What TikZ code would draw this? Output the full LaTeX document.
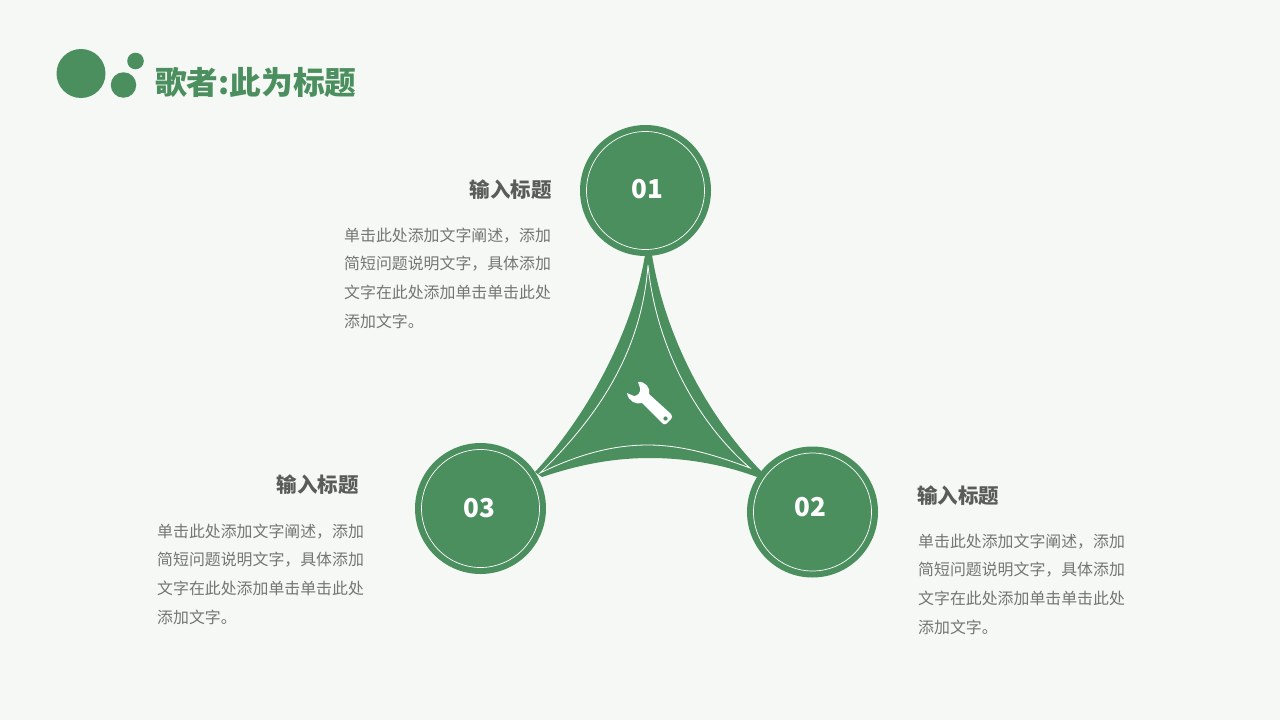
\documentclass[tikz,border=0pt]{standalone}
\usepackage{fontspec}
\setmainfont{Noto Sans CJK SC}
\definecolor{leaf}{HTML}{4B8F5F}
\definecolor{paper}{HTML}{F5F8F5}
\definecolor{ink}{HTML}{5A5C5A}
\definecolor{inkbody}{HTML}{747674}
\begin{document}
\begin{tikzpicture}[
    x=1pt, y=-1pt,
    dot/.style={circle, fill=leaf, inner sep=0pt},
    disc/.style={circle, fill=leaf, inner sep=0pt, minimum size=131pt},
    ring/.style={circle, draw=white, line width=0.7pt, inner sep=0pt, minimum size=118pt},
    number/.style={inner sep=0pt, text=white, font=\fontsize{26}{31}\selectfont\bfseries},
    heading/.style={inner sep=0pt, text=ink, font=\fontsize{20.5}{25}\selectfont\bfseries},
    body/.style={inner sep=0pt, anchor=west, align=left, text=inkbody, font=\fontsize{15.9}{28.7}\selectfont},
]
    \useasboundingbox[fill=paper] (0,0) rectangle (1280,720);

    \node[dot, minimum size=49pt] (d1) at (81,73.5) {};
    \node[dot, minimum size=25.5pt] (d2) at (123.5,85) {};
    \node[dot, minimum size=16.6pt] (d3) at (135.5,61) {};
    \node[anchor=west, inner sep=0pt, text=leaf, font=\fontsize{31.7}{36}\selectfont\bfseries] (title) at (155,82) {歌者:此为标题};

    \fill[leaf] (645,250) -- (652,250) -- (652,255) .. controls (665,335) and (706,415) .. (762,472)
        -- (757,477) .. controls (722,464) and (685,458) .. (650,458)
        .. controls (612,458) and (578,465) .. (542,477) -- (535,472)
        .. controls (585,418) and (632,335) .. (645,255) -- cycle;
    \draw[white, line width=0.8pt] (648,265) .. controls (642,345) and (605,410) .. (540,473)
        .. controls (575,456) and (610,445) .. (648,445)
        .. controls (685,445) and (720,457) .. (750,468)
        .. controls (695,420) and (656,345) .. (648,265) -- cycle;

    \fill[white] (638,382) .. controls (645,381) and (651,388) .. (649,394) -- (671,414)
        .. controls (673,416) and (672,418) .. (671,419) -- (666,424)
        .. controls (665,425) and (663,424) .. (662,423) -- (642,403)
        .. controls (636,405) and (628,401) .. (627,393) -- (634,396)
        .. controls (638,396) and (641,392) .. (640,388) -- cycle;
    \fill[leaf] (665.5,418.5) circle (2.1);

    \node[disc] (c1) at (645.5,190.5) {};
    \node[ring] (r1) at (c1) {};
    \node[number] (n1) at (647,189) {01};
    \node[disc] (c2) at (812.5,512) {};
    \node[ring] (r2) at (c2) {};
    \node[number] (n2) at (810.5,507) {02};
    \node[disc] (c3) at (480.5,508.5) {};
    \node[ring] (r3) at (c3) {};
    \node[number] (n3) at (479.5,508) {03};

    \node[heading, anchor=east] (h1) at (552,190) {输入标题};
    \node[body] (b1) at (344,278) {单击此处添加文字阐述，添加\\简短问题说明文字，具体添加\\文字在此处添加单击单击此处\\添加文字。};
    \node[heading, anchor=west] (h2) at (917,496) {输入标题};
    \node[body] (b2) at (918,584) {单击此处添加文字阐述，添加\\简短问题说明文字，具体添加\\文字在此处添加单击单击此处\\添加文字。};
    \node[heading, anchor=east] (h3) at (359,485) {输入标题};
    \node[body] (b3) at (157,574) {单击此处添加文字阐述，添加\\简短问题说明文字，具体添加\\文字在此处添加单击单击此处\\添加文字。};
\end{tikzpicture}
\end{document}
